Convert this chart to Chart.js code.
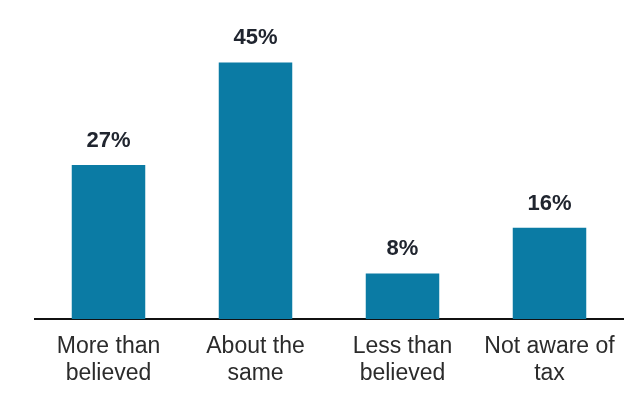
<!DOCTYPE html>
<html>
<head>
<meta charset="utf-8">
<script src="https://cdn.jsdelivr.net/npm/chart.js@4/dist/chart.umd.min.js"></script>
<style>
  html, body { margin: 0; padding: 0; background: #ffffff; }
  #wrap { width: 635px; height: 403px; position: relative; }
</style>
</head>
<body>
<div id="wrap"><canvas id="c" width="635" height="403"></canvas></div>
<script>
// Survey answers and their shares (percent)
const categories = [
  ['More than', 'believed'],
  ['About the', 'same'],
  ['Less than', 'believed'],
  ['Not aware of', 'tax']
];
const shares = [27, 45, 8, 16];
const yMax = 50;

// Writes each bar's value as "NN%" just above the bar
const valueLabels = {
  id: 'valueLabels',
  afterDatasetsDraw(chart) {
    const ctx = chart.ctx;
    const meta = chart.getDatasetMeta(0);
    ctx.save();
    ctx.font = 'bold 22px "Liberation Sans", Arial, sans-serif';
    ctx.fillStyle = '#20252f';
    ctx.textAlign = 'center';
    ctx.textBaseline = 'alphabetic';
    meta.data.forEach((bar, i) => {
      ctx.fillText(shares[i] + '%', bar.x, bar.y - 18);
    });
    ctx.restore();
  }
};

new Chart(document.getElementById('c'), {
  type: 'bar',
  data: {
    labels: categories,
    datasets: [{
      data: shares,
      backgroundColor: '#0b7ba4',
      borderWidth: 0,
      barPercentage: 0.5,
      categoryPercentage: 1.0
    }]
  },
  options: {
    responsive: false,
    animation: false,
    layout: { padding: { left: 35, right: 12, top: 34, bottom: 2 } },
    plugins: {
      legend: { display: false },
      tooltip: { enabled: false }
    },
    scales: {
      x: {
        grid: { display: false, drawTicks: false },
        border: { display: true, color: '#111111', width: 2 },
        ticks: {
          color: '#2b2b2b',
          padding: 14,
          maxRotation: 0,
          autoSkip: false,
          font: { family: '"Liberation Sans", Arial, sans-serif', size: 23, lineHeight: 1.174 }
        }
      },
      y: {
        display: false,
        min: 0,
        max: yMax
      }
    }
  },
  plugins: [valueLabels]
});
</script>
</body>
</html>
